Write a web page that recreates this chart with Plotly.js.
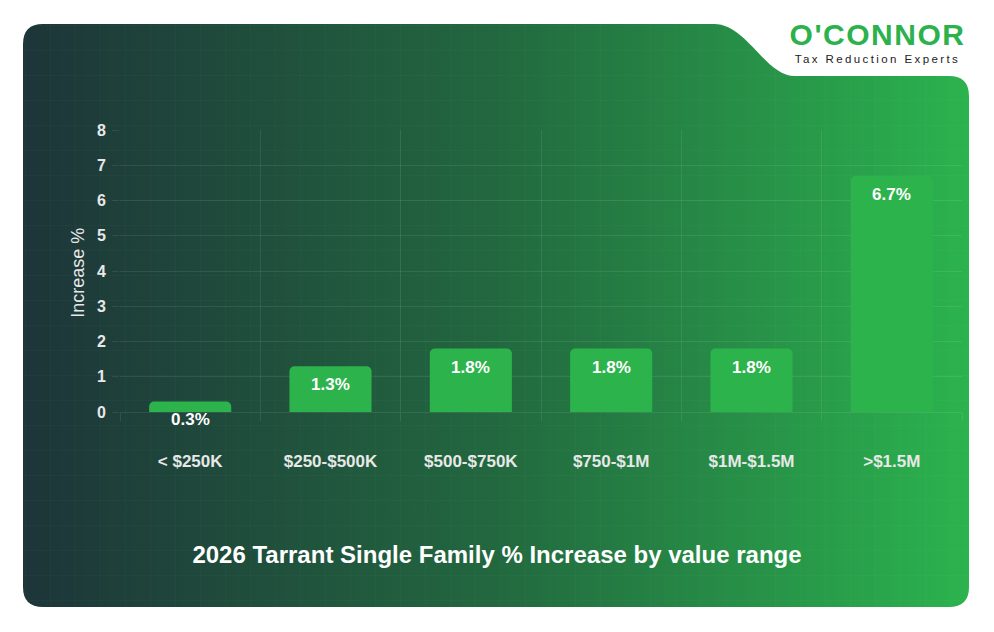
<!DOCTYPE html>
<html>
<head>
<meta charset="utf-8">
<script src="https://cdn.plot.ly/plotly-3.0.1.min.js"></script>
<style>
    html, body { margin: 0; padding: 0; background: #ffffff; }
    #wrap { position: relative; width: 994px; height: 632px; overflow: hidden; }
    #fondo { position: absolute; left: 0; top: 0; }
    #grafico { position: absolute; left: 0; top: 0; width: 994px; height: 632px; }
    #logo { position: absolute; left: 770px; top: 20px; width: 215px; text-align: center; font-family: "Liberation Sans", Arial, sans-serif; }
    #logo .marca { color: #2bb24c; font-weight: bold; font-size: 30px; letter-spacing: 1.5px; line-height: 30px; }
    #logo .lema { color: #222; font-size: 11.5px; letter-spacing: 2.4px; line-height: 13px; margin-top: 3px; }
</style>
</head>
<body>
<div id="wrap">
    <svg id="fondo" width="994" height="632">
        <defs>
            <linearGradient id="degradado" x1="0" y1="0" x2="1" y2="0">
                <stop offset="0" stop-color="#1d3539"/>
                <stop offset="0.5" stop-color="#22683f"/>
                <stop offset="1" stop-color="#2bb34e"/>
            </linearGradient>
            <pattern id="cuadricula" width="25" height="25" patternUnits="userSpaceOnUse">
                <path d="M 25 0 L 0 0 0 25" fill="none" stroke="rgba(255,255,255,0.035)" stroke-width="1"/>
            </pattern>
        </defs>
        <path d="M 43 24 L 714 24 C 747 24 765 76 795 76 L 949 76 Q 969 76 969 96 L 969 587 Q 969 607 949 607 L 43 607 Q 23 607 23 587 L 23 44 Q 23 24 43 24 Z" fill="url(#degradado)"/>
        <path d="M 43 24 L 714 24 C 747 24 765 76 795 76 L 949 76 Q 969 76 969 96 L 969 587 Q 969 607 949 607 L 43 607 Q 23 607 23 587 L 23 44 Q 23 24 43 24 Z" fill="url(#cuadricula)"/>
    </svg>
    <div id="grafico"></div>
    <div id="logo">
        <div class="marca">O'CONNOR</div>
        <div class="lema">Tax Reduction Experts</div>
    </div>
</div>
<script>
const rangos = ["< $250K", "$250-$500K", "$500-$750K", "$750-$1M", "$1M-$1.5M", ">$1.5M"];
const aumentos = [0.3, 1.3, 1.8, 1.8, 1.8, 6.7];
const marcasY = [0, 1, 2, 3, 4, 5, 6, 7, 8];
const etiquetas = aumentos.map(v => v.toFixed(1) + "%");

const fuente = "Liberation Sans, Arial, sans-serif";
const colorGrid = "rgba(255,255,255,0.085)";

const trace = {
    x: rangos,
    y: aumentos,
    type: "bar",
    marker: { color: "#2db34c", cornerradius: 5 },
    hoverinfo: "skip"
};

// etiquetas de valor debajo del borde superior de cada barra
const anotaciones = rangos.map((r, i) => ({
    x: r,
    y: aumentos[i],
    xref: "x",
    yref: "y",
    text: "<b>" + etiquetas[i] + "</b>",
    showarrow: false,
    yanchor: "top",
    yshift: -7,
    font: { family: fuente, size: 17, color: "#ffffff" }
}));

anotaciones.push({
    xref: "paper",
    yref: "paper",
    x: -0.05,
    y: 0.493,
    text: "Increase %",
    textangle: -90,
    showarrow: false,
    xanchor: "center",
    yanchor: "middle",
    font: { family: fuente, size: 18, color: "#e8e8e8" }
});

const layout = {
    width: 994,
    height: 632,
    margin: { l: 120, r: 32, t: 130, b: 220 },
    paper_bgcolor: "rgba(0,0,0,0)",
    plot_bgcolor: "rgba(0,0,0,0)",
    bargap: 0.415,
    showlegend: false,
    title: {
        text: "<b>2026 Tarrant Single Family % Increase by value range</b>",
        xref: "container",
        yref: "container",
        x: 0.5,
        y: 1 - 555 / 632,
        xanchor: "center",
        yanchor: "middle",
        font: { family: fuente, size: 24, color: "#ffffff" }
    },
    xaxis: {
        type: "category",
        tickson: "boundaries",
        showgrid: true,
        gridcolor: colorGrid,
        ticks: "outside",
        ticklen: 8,
        tickcolor: colorGrid,
        ticklabelstandoff: 37,
        showline: false,
        zeroline: false,
        tickfont: { family: fuente, size: 17, color: "#e8e8e8", weight: "bold" },
        fixedrange: true
    },
    yaxis: {
        range: [0, 8],
        tickvals: marcasY,
        ticktext: marcasY.map(String),
        showgrid: true,
        gridcolor: colorGrid,
        ticks: "outside",
        ticklen: 7,
        tickcolor: colorGrid,
        ticklabelstandoff: 3,
        zeroline: true,
        zerolinecolor: colorGrid,
        showline: false,
        tickfont: { family: fuente, size: 16, color: "#e8e8e8", weight: "bold" },
        fixedrange: true
    },
    annotations: anotaciones
};

Plotly.newPlot("grafico", [trace], layout, { displayModeBar: false, staticPlot: true });
</script>
</body>
</html>
